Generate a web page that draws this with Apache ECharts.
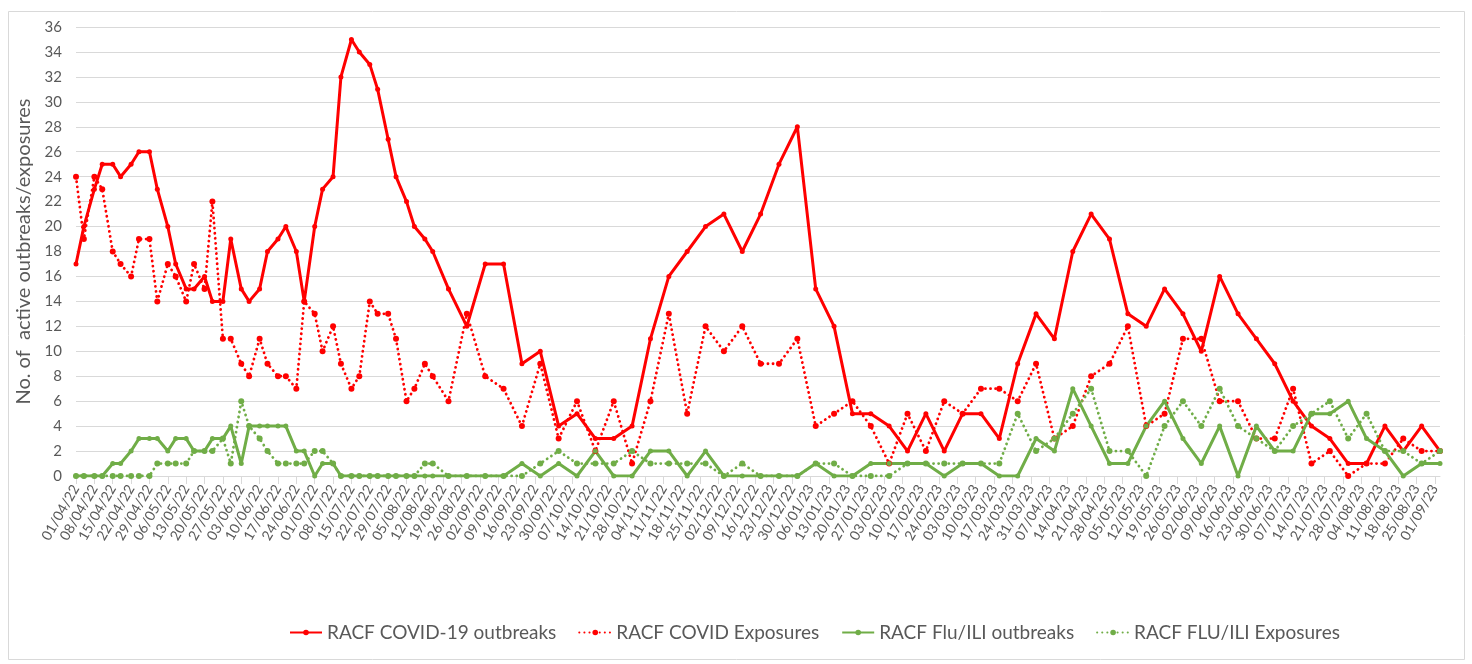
<!DOCTYPE html>
<html>
<head>
<meta charset="utf-8">
<title>RACF outbreaks and exposures</title>
<script src="https://cdn.jsdelivr.net/npm/echarts@6/dist/echarts.min.js"></script>
<style>
  html, body { margin: 0; padding: 0; background: #fff; }
  #main { width: 1472px; height: 664px; }
</style>
</head>
<body>
<div id="main"></div>
<script>
// report dates: twice weekly until mid August 2022, then weekly
var dates = [
    '2022-04-01', '2022-04-04', '2022-04-08', '2022-04-11', '2022-04-15', '2022-04-18',
    '2022-04-22', '2022-04-25', '2022-04-29', '2022-05-02', '2022-05-06', '2022-05-09',
    '2022-05-13', '2022-05-16', '2022-05-20', '2022-05-23', '2022-05-27', '2022-05-30',
    '2022-06-03', '2022-06-06', '2022-06-10', '2022-06-13', '2022-06-17', '2022-06-20',
    '2022-06-24', '2022-06-27', '2022-07-01', '2022-07-04', '2022-07-08', '2022-07-11',
    '2022-07-15', '2022-07-18', '2022-07-22', '2022-07-25', '2022-07-29', '2022-08-01',
    '2022-08-05', '2022-08-08', '2022-08-12', '2022-08-15',
    '2022-08-21', '2022-08-28', '2022-09-04', '2022-09-11', '2022-09-18', '2022-09-25',
    '2022-10-02', '2022-10-09', '2022-10-16', '2022-10-23', '2022-10-30', '2022-11-06',
    '2022-11-13', '2022-11-20', '2022-11-27', '2022-12-04', '2022-12-11', '2022-12-18',
    '2022-12-25', '2023-01-01', '2023-01-08', '2023-01-15', '2023-01-22', '2023-01-29',
    '2023-02-05', '2023-02-12', '2023-02-19', '2023-02-26', '2023-03-05', '2023-03-12',
    '2023-03-19', '2023-03-26', '2023-04-02', '2023-04-09', '2023-04-16', '2023-04-23',
    '2023-04-30', '2023-05-07', '2023-05-14', '2023-05-21', '2023-05-28', '2023-06-04',
    '2023-06-11', '2023-06-18', '2023-06-25', '2023-07-02', '2023-07-09', '2023-07-16',
    '2023-07-23', '2023-07-30', '2023-08-06', '2023-08-13', '2023-08-20', '2023-08-27',
    '2023-09-03'
];

var covidOutbreaks = [
    17, 20, 23, 25, 25, 24, 25, 26, 26, 23, 20, 17, 15, 15, 16, 14, 14, 19, 15, 14,
    15, 18, 19, 20, 18, 14, 20, 23, 24, 32, 35, 34, 33, 31, 27, 24, 22, 20, 19, 18,
    15, 12, 17, 17, 9, 10, 4, 5, 3, 3, 4, 11, 16, 18, 20, 21, 18, 21, 25, 28,
    15, 12, 5, 5, 4, 2, 5, 2, 5, 5, 3, 9, 13, 11, 18, 21, 19, 13, 12, 15,
    13, 10, 16, 13, 11, 9, 6, 4, 3, 1, 1, 4, 2, 4, 2
];
var covidExposures = [
    24, 19, 24, 23, 18, 17, 16, 19, 19, 14, 17, 16, 14, 17, 15, 22, 11, 11, 9, 8,
    11, 9, 8, 8, 7, 14, 13, 10, 12, 9, 7, 8, 14, 13, 13, 11, 6, 7, 9, 8,
    6, 13, 8, 7, 4, 9, 3, 6, 2, 6, 1, 6, 13, 5, 12, 10, 12, 9, 9, 11,
    4, 5, 6, 4, 1, 5, 2, 6, 5, 7, 7, 6, 9, 3, 4, 8, 9, 12, 4, 5,
    11, 11, 6, 6, 3, 3, 7, 1, 2, 0, 1, 1, 3, 2, 2
];
var fluOutbreaks = [
    0, 0, 0, 0, 1, 1, 2, 3, 3, 3, 2, 3, 3, 2, 2, 3, 3, 4, 1, 4,
    4, 4, 4, 4, 2, 2, 0, 1, 1, 0, 0, 0, 0, 0, 0, 0, 0, 0, 0, 0,
    0, 0, 0, 0, 1, 0, 1, 0, 2, 0, 0, 2, 2, 0, 2, 0, 0, 0, 0, 0,
    1, 0, 0, 1, 1, 1, 1, 0, 1, 1, 0, 0, 3, 2, 7, 4, 1, 1, 4, 6,
    3, 1, 4, 0, 4, 2, 2, 5, 5, 6, 3, 2, 0, 1, 1
];
var fluExposures = [
    0, 0, 0, 0, 0, 0, 0, 0, 0, 1, 1, 1, 1, 2, 2, 2, 3, 1, 6, 4,
    3, 2, 1, 1, 1, 1, 2, 2, 1, 0, 0, 0, 0, 0, 0, 0, 0, 0, 1, 1,
    0, 0, 0, 0, 0, 1, 2, 1, 1, 1, 2, 1, 1, 1, 1, 0, 1, 0, 0, 0,
    1, 1, 0, 0, 0, 1, 1, 1, 1, 1, 1, 5, 2, 3, 5, 7, 2, 2, 0, 4,
    6, 4, 7, 4, 3, 2, 4, 5, 6, 3, 5, 2, 2, 1, 2
];

var seriesNames = ['RACF COVID-19 outbreaks', 'RACF COVID Exposures', 'RACF Flu/ILI outbreaks', 'RACF FLU/ILI Exposures'];
var startDate = '2022-04-01';
var lastLabelDate = '2023-09-01';

var myChart = echarts.init(document.getElementById('main'));
var FONT = 'Lato, "Open Sans", sans-serif';
var GREY = '#595959';
var RED = '#ff0000';
var GREEN = '#70ad47';

function toUtc(s) {
    var p = s.split('-');
    return Date.UTC(+p[0], +p[1] - 1, +p[2]);
}
// x axis counts days since the first report
function dayOf(s) {
    return Math.round((toUtc(s) - toUtc(startDate)) / 86400000);
}
function pad(n) {
    return n < 10 ? '0' + n : '' + n;
}
function dayLabel(v) {
    var d = new Date(toUtc(startDate) + v * 86400000);
    return pad(d.getUTCDate()) + '/' + pad(d.getUTCMonth() + 1) + '/' + String(d.getUTCFullYear()).slice(2);
}
function pairs(values) {
    return dates.map(function(s, i) {
        return [dayOf(s), values[i]];
    });
}

// one tick and label per week
var weekTicks = [];
for (var w = 0; w <= dayOf(lastLabelDate); w += 7) {
    weekTicks.push(w);
}

function makeSeries(name, values, color, dotted) {
    return {
        name: name,
        type: 'line',
        data: pairs(values),
        symbol: 'circle',
        symbolSize: dotted ? 6 : 5,
        showSymbol: true,
        itemStyle: { color: color },
        lineStyle: dotted ? {
            color: color, width: 2.8, type: [0.1, 5], cap: 'round'
        } : {
            color: color, width: 3
        },
        emphasis: { disabled: true },
        animation: false
    };
}

myChart.setOption({
    backgroundColor: '#fff',
    textStyle: { fontFamily: FONT },
    graphic: [{
        type: 'rect',
        shape: { x: 8.5, y: 11.5, width: 1456, height: 648 },
        style: { fill: 'none', stroke: '#d9d9d9', lineWidth: 1 },
        silent: true
    }],
    grid: {
        left: 76,
        right: 32,
        top: 27,
        bottom: 188,
        containLabel: false
    },
    legend: {
        left: 284,
        top: 618,
        itemWidth: 32,
        itemHeight: 7,
        itemGap: 22,
        textStyle: { fontSize: 19, color: GREY, fontFamily: FONT },
        data: seriesNames
    },
    xAxis: {
        type: 'value',
        min: 0,
        max: dayOf(dates[dates.length - 1]),
        interval: 7,
        axisLine: { show: true, lineStyle: { color: '#d9d9d9', width: 1 } },
        axisTick: {
            show: true,
            customValues: weekTicks,
            length: 8,
            lineStyle: { color: '#d9d9d9' }
        },
        axisLabel: {
            customValues: weekTicks,
            rotate: 60,
            margin: 10,
            fontSize: 14,
            color: GREY,
            fontFamily: FONT,
            formatter: dayLabel
        },
        splitLine: { show: false }
    },
    yAxis: {
        type: 'value',
        min: 0,
        max: 36,
        interval: 2,
        name: 'No. of  active outbreaks/exposures',
        nameLocation: 'middle',
        nameGap: 32,
        nameTextStyle: { fontSize: 20, color: GREY, fontFamily: FONT },
        axisLine: { show: false },
        axisTick: { show: false },
        axisLabel: { fontSize: 15, color: GREY, margin: 14, fontFamily: FONT },
        splitLine: { lineStyle: { color: '#d9d9d9', width: 1 } }
    },
    series: [
        makeSeries(seriesNames[0], covidOutbreaks, RED, false),
        makeSeries(seriesNames[1], covidExposures, RED, true),
        makeSeries(seriesNames[2], fluOutbreaks, GREEN, false),
        makeSeries(seriesNames[3], fluExposures, GREEN, true)
    ]
});
</script>
</body>
</html>
